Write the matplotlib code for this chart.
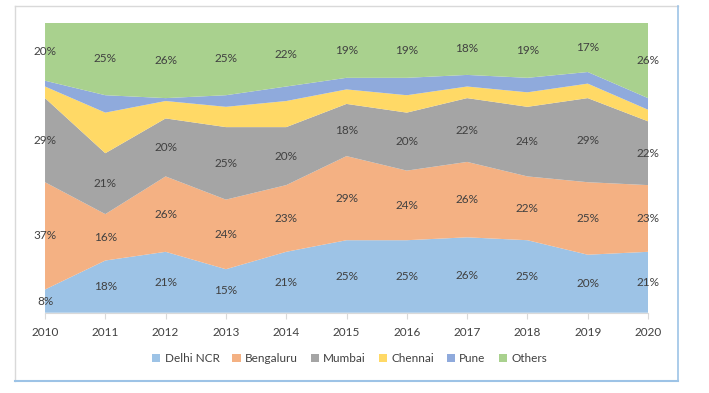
import numpy as np
import matplotlib.pyplot as plt
from matplotlib.lines import Line2D
from matplotlib.patches import Patch

years = [2010, 2011, 2012, 2013, 2014, 2015, 2016, 2017, 2018, 2019, 2020]
delhi = [8, 18, 21, 15, 21, 25, 25, 26, 25, 20, 21]
bengaluru = [37, 16, 26, 24, 23, 29, 24, 26, 22, 25, 23]
mumbai = [29, 21, 20, 25, 20, 18, 20, 22, 24, 29, 22]
chennai = [4, 14, 6, 7, 9, 5, 6, 4, 5, 5, 4]
pune = [2, 6, 1, 4, 5, 4, 6, 4, 5, 4, 4]
others = [20, 25, 26, 25, 22, 19, 19, 18, 19, 17, 26]

names = ['Delhi NCR', 'Bengaluru', 'Mumbai', 'Chennai', 'Pune', 'Others']
colors = ['#9DC3E6', '#F4B183', '#A5A5A5', '#FFD966', '#8FAADC', '#A9D18E']
labelled = [True, True, True, False, False, True]

plt.rcParams['font.family'] = ['Lato', 'DejaVu Sans']
txt = '#404040'

data = np.array([delhi, bengaluru, mumbai, chennai, pune, others], dtype=float)
share = data / data.sum(axis=0) * 100

fig = plt.figure(figsize=(7.09, 3.93), dpi=100)
ax = fig.add_axes([0.0635, 0.2043, 0.8505, 0.7379])
ax.stackplot(years, share, colors=colors, linewidth=0)

bottom = np.zeros(len(years))
for i in range(len(names)):
    if labelled[i]:
        for j, yr in enumerate(years):
            ax.text(yr, bottom[j] + share[i][j] / 2, f'{data[i][j]:.0f}%',
                    ha='center', va='center', fontsize=8.5, color=txt, clip_on=False)
    bottom += share[i]

ax.set_xlim(2010, 2020)
ax.set_ylim(0, 100)
ax.set_xticks(years)
ax.set_xticklabels([str(y) for y in years], fontsize=8.5, color=txt)
ax.set_yticks([])
for s in ['left', 'right', 'top']:
    ax.spines[s].set_visible(False)
ax.spines['bottom'].set_color('#D9D9D9')
ax.tick_params(axis='x', length=4, color='#D9D9D9', pad=6)

handles = [Patch(facecolor=c, edgecolor='none') for c in colors]
fig.legend(handles, names, loc='center', bbox_to_anchor=(0.493, 0.087), ncol=6,
           frameon=False, fontsize=8.5, labelcolor=txt, handlelength=0.7,
           handleheight=0.7, handletextpad=0.35, columnspacing=1.1)

# chart frame
fig.add_artist(Line2D([0.021, 0.021], [0.031, 0.985], color='#D9D9D9', lw=1))
fig.add_artist(Line2D([0.021, 0.956], [0.985, 0.985], color='#D9D9D9', lw=1))
fig.add_artist(Line2D([0.956, 0.956], [0.031, 0.985], color='#9DC3E6', lw=1.2))
fig.add_artist(Line2D([0.021, 0.956], [0.031, 0.031], color='#9DC3E6', lw=1.5))

fig.savefig('out.png', dpi=100)
